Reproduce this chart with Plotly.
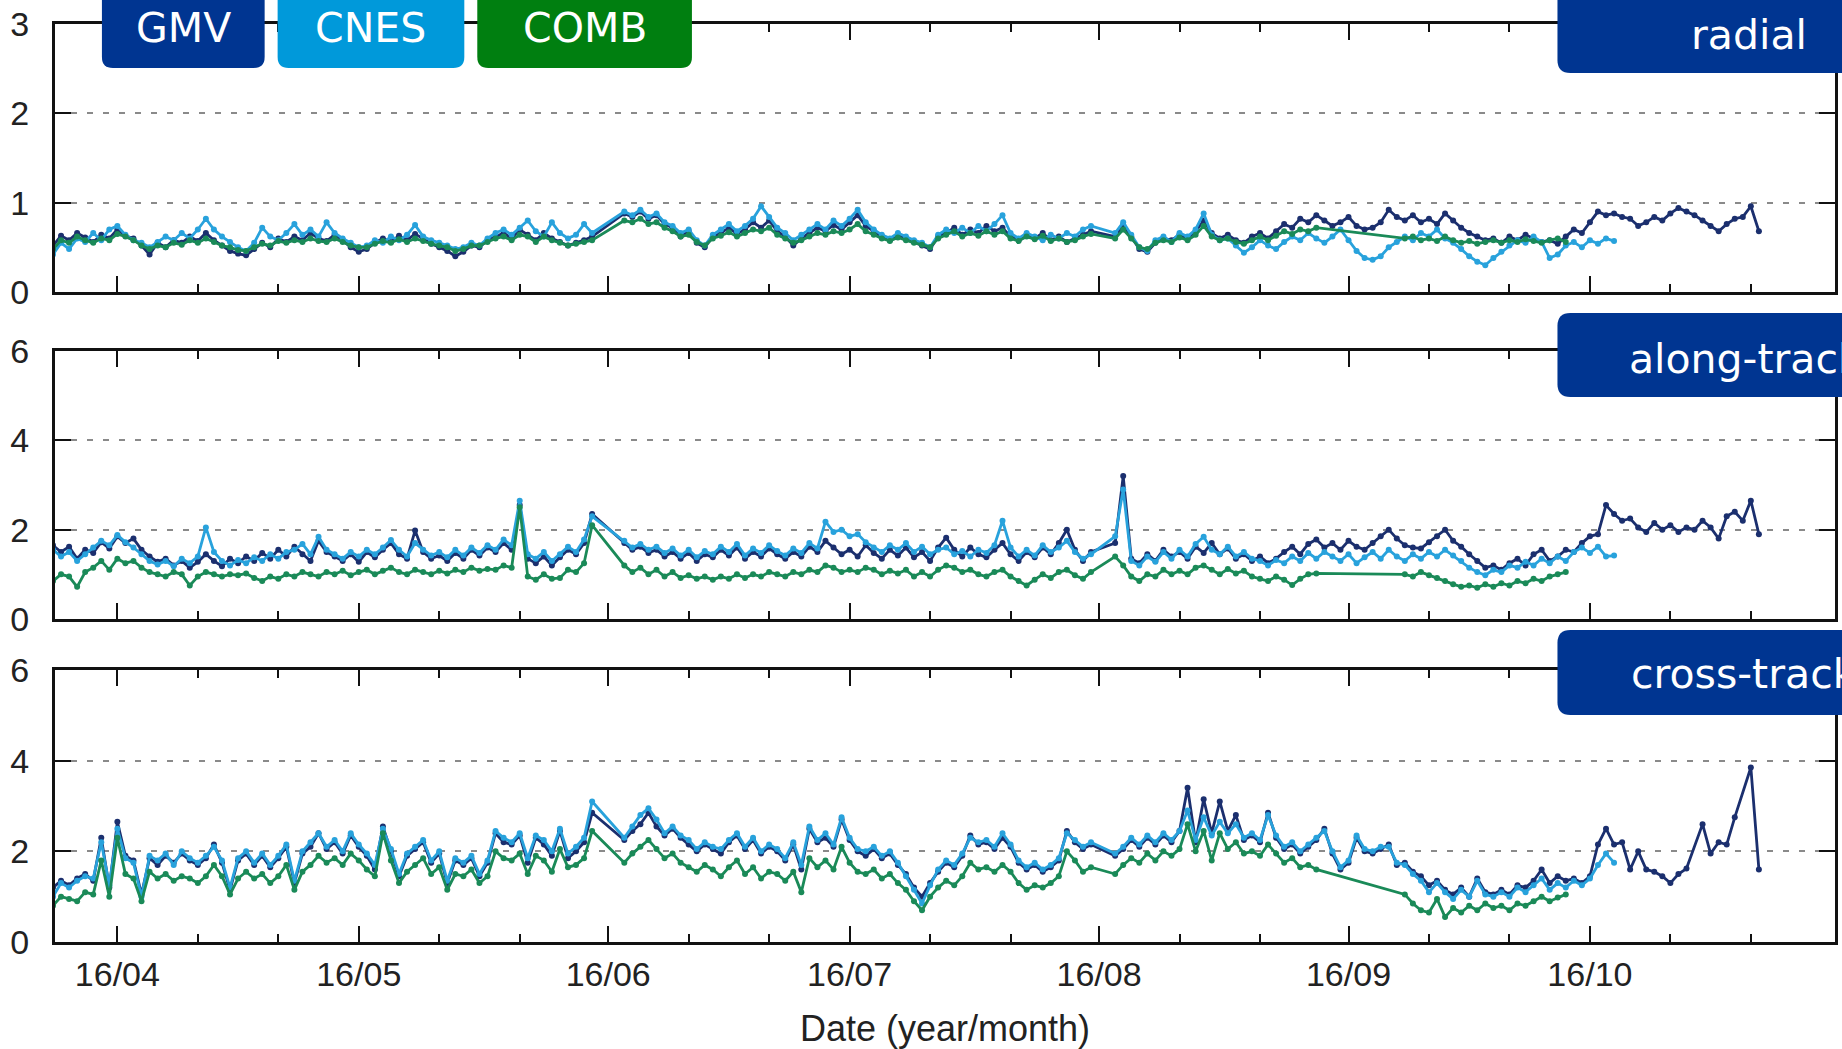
import pandas as pd
import plotly.graph_objects as go

N = None
# Daily dates (2016-03-24 ... 2016-10-22)
dates = pd.date_range("2016-03-24", periods=213, freq="D")

# ---------------- radial ----------------
radial_gmv = [
 0.52,0.63,0.58,0.66,0.61,0.56,0.64,0.60,0.70,0.63,
 0.60,0.52,0.42,0.55,0.50,0.58,0.55,0.62,0.57,0.66,
 0.58,0.52,0.46,0.43,0.41,0.48,0.55,0.50,0.60,0.56,
 0.62,0.58,0.66,0.60,0.57,0.64,0.58,0.50,0.45,0.48,
 0.55,0.60,0.56,0.63,0.58,0.65,0.59,0.54,0.50,0.46,
 0.40,0.45,0.52,0.50,0.58,0.62,0.66,0.60,0.70,0.64,
 0.58,0.66,0.60,0.56,0.52,0.55,0.58,0.62,N,N,
 N,0.88,0.84,0.90,0.82,0.86,0.76,0.72,0.62,0.68,
 0.55,0.50,0.62,0.66,0.72,0.65,0.70,0.78,0.72,0.80,
 0.68,0.62,0.52,0.60,0.66,0.72,0.68,0.75,0.70,0.78,
 0.86,0.74,0.68,0.62,0.58,0.64,0.60,0.56,0.52,0.48,
 0.62,0.66,0.72,0.64,0.70,0.66,0.74,0.68,0.72,0.62,
 0.58,0.64,0.60,0.66,0.58,0.62,0.56,0.60,0.64,0.68,
 N,N,0.62,0.75,0.62,0.48,0.45,0.55,0.60,0.58,
 0.64,0.60,0.68,0.80,0.66,0.60,0.64,0.58,0.55,0.62,
 0.66,0.60,0.68,0.76,0.72,0.82,0.78,0.86,0.80,0.74,
 0.78,0.84,0.74,0.70,0.72,0.78,0.92,0.84,0.80,0.86,
 0.78,0.82,0.76,0.88,0.80,0.72,0.66,0.62,0.58,0.60,
 0.55,0.62,0.58,0.64,0.60,0.56,0.58,0.54,0.62,0.70,
 0.66,0.78,0.90,0.86,0.88,0.84,0.82,0.74,0.78,0.84,
 0.80,0.88,0.94,0.90,0.86,0.80,0.74,0.68,0.76,0.82,
 0.84,0.96,0.68]
radial_cnes = [
 0.42,0.55,0.48,0.60,0.56,0.66,0.58,0.70,0.74,0.64,
 0.58,0.55,0.50,0.56,0.62,0.58,0.66,0.60,0.70,0.82,
 0.70,0.62,0.56,0.50,0.46,0.55,0.72,0.62,0.58,0.66,
 0.76,0.64,0.70,0.62,0.78,0.66,0.60,0.55,0.50,0.52,
 0.58,0.55,0.62,0.58,0.64,0.75,0.62,0.58,0.55,0.52,
 0.48,0.50,0.55,0.52,0.60,0.66,0.70,0.64,0.72,0.80,
 0.68,0.62,0.78,0.66,0.60,0.64,0.76,0.66,N,N,
 N,0.90,0.86,0.92,0.84,0.88,0.78,0.74,0.66,0.70,
 0.58,0.52,0.64,0.70,0.76,0.68,0.74,0.82,0.96,0.84,
 0.72,0.66,0.58,0.64,0.70,0.76,0.70,0.80,0.74,0.82,
 0.92,0.78,0.70,0.64,0.60,0.66,0.62,0.58,0.55,0.50,
 0.64,0.70,0.66,0.72,0.66,0.74,0.68,0.76,0.86,0.66,
 0.60,0.66,0.62,0.58,0.64,0.60,0.66,0.62,0.70,0.74,
 N,N,0.66,0.78,0.64,0.50,0.46,0.58,0.62,0.56,
 0.66,0.62,0.70,0.88,0.64,0.58,0.60,0.52,0.44,0.50,
 0.58,0.52,0.48,0.56,0.62,0.58,0.66,0.60,0.55,0.62,
 0.70,0.58,0.46,0.38,0.36,0.40,0.50,0.56,0.62,0.58,
 0.66,0.62,0.70,0.60,0.55,0.48,0.40,0.34,0.30,0.38,
 0.45,0.52,0.58,0.55,0.62,0.56,0.38,0.42,0.52,0.56,
 0.50,0.58,0.54,0.60,0.57] + [N]*18
radial_comb = [
 0.48,0.58,0.55,0.62,0.58,0.55,0.60,0.58,0.65,0.62,
 0.58,0.52,0.48,0.52,0.50,0.55,0.53,0.58,0.55,0.60,
 0.56,0.52,0.50,0.47,0.46,0.50,0.54,0.52,0.57,0.55,
 0.58,0.56,0.60,0.57,0.56,0.60,0.56,0.52,0.50,0.50,
 0.54,0.57,0.55,0.59,0.56,0.60,0.57,0.54,0.52,0.50,
 0.46,0.48,0.52,0.52,0.56,0.60,0.62,0.58,0.64,0.62,
 0.56,0.62,0.58,0.55,0.52,0.54,0.56,0.58,N,N,
 N,0.80,0.78,0.82,0.76,0.78,0.72,0.68,0.62,0.64,
 0.56,0.52,0.60,0.63,0.67,0.62,0.66,0.70,0.68,0.72,
 0.64,0.60,0.55,0.58,0.62,0.66,0.64,0.68,0.66,0.70,
 0.76,0.68,0.64,0.60,0.57,0.61,0.58,0.55,0.53,0.50,
 0.60,0.64,0.68,0.62,0.66,0.63,0.68,0.64,0.68,0.60,
 0.57,0.62,0.59,0.63,0.57,0.60,0.56,0.58,0.62,0.65,
 N,N,0.60,0.70,0.60,0.50,0.48,0.55,0.58,0.56,
 0.61,0.58,0.64,0.74,0.62,0.58,0.60,0.56,0.54,0.58,
 0.62,0.58,0.63,0.68,0.65,0.70,0.68,0.72,N,N,
 N,N,N,N,N,N,N,N,0.60,0.62,
 0.58,0.60,0.57,0.62,0.58,0.55,0.57,0.54,0.56,0.58,
 0.55,0.58,0.56,0.59,0.57,0.55,0.58,0.60,0.56,N] + [N]*23

# ---------------- along-track ----------------
along_gmv = [
 1.65,1.50,1.62,1.35,1.55,1.48,1.72,1.58,1.85,1.70,
 1.80,1.55,1.40,1.28,1.35,1.20,1.30,1.15,1.28,1.45,
 1.30,1.18,1.35,1.25,1.40,1.30,1.48,1.35,1.55,1.40,
 1.62,1.45,1.30,1.75,1.50,1.40,1.30,1.45,1.28,1.50,
 1.38,1.55,1.70,1.45,1.35,1.98,1.50,1.35,1.42,1.30,
 1.48,1.35,1.55,1.42,1.60,1.50,1.70,1.55,2.55,1.35,
 1.25,1.40,1.20,1.38,1.55,1.45,1.70,2.35,N,N,
 N,1.70,1.55,1.62,1.48,1.55,1.40,1.50,1.35,1.48,
 1.30,1.45,1.38,1.55,1.42,1.60,1.35,1.50,1.40,1.58,
 1.45,1.35,1.50,1.40,1.62,1.50,1.75,1.60,1.45,1.55,
 1.40,1.65,1.48,1.35,1.55,1.42,1.60,1.38,1.50,1.30,
 1.60,1.82,1.55,1.40,1.60,1.45,1.38,1.55,1.70,1.45,
 1.30,1.50,1.38,1.60,1.45,1.70,2.00,1.55,1.30,1.50,
 N,N,1.70,3.20,1.35,1.25,1.45,1.30,1.55,1.40,
 1.50,1.35,1.62,1.48,1.70,1.45,1.58,1.35,1.45,1.30,
 1.40,1.25,1.35,1.50,1.62,1.45,1.68,1.78,1.60,1.70,
 1.55,1.75,1.62,1.55,1.70,1.85,2.00,1.80,1.65,1.60,
 1.58,1.72,1.85,2.00,1.75,1.62,1.45,1.30,1.15,1.20,
 1.10,1.25,1.35,1.20,1.45,1.55,1.30,1.40,1.55,1.50,
 1.70,1.85,1.90,2.55,2.35,2.20,2.25,2.05,1.95,2.15,
 2.00,2.10,1.95,2.05,2.00,2.20,2.05,1.80,2.30,2.40,
 2.20,2.65,1.90]
along_cnes = [
 1.55,1.40,1.50,1.30,1.45,1.60,1.75,1.65,1.88,1.72,
 1.60,1.45,1.30,1.22,1.30,1.18,1.35,1.25,1.40,2.05,
 1.50,1.30,1.20,1.32,1.25,1.38,1.30,1.45,1.35,1.50,
 1.55,1.68,1.45,1.84,1.55,1.45,1.35,1.50,1.40,1.55,
 1.45,1.60,1.77,1.55,1.40,1.70,1.55,1.42,1.50,1.38,
 1.55,1.42,1.60,1.48,1.65,1.55,1.78,1.65,2.65,1.45,
 1.35,1.50,1.30,1.45,1.62,1.50,1.78,2.30,N,N,
 N,1.75,1.60,1.68,1.55,1.62,1.48,1.58,1.42,1.55,
 1.38,1.52,1.45,1.62,1.50,1.68,1.42,1.58,1.48,1.65,
 1.52,1.42,1.58,1.48,1.70,1.58,2.18,1.95,2.00,1.85,
 1.90,1.72,1.60,1.50,1.65,1.55,1.70,1.50,1.62,1.45,
 1.55,1.60,1.45,1.52,1.40,1.55,1.48,1.65,2.20,1.60,
 1.40,1.55,1.42,1.65,1.50,1.60,1.75,1.50,1.35,1.45,
 N,N,1.85,2.90,1.30,1.20,1.40,1.28,1.50,1.35,
 1.55,1.40,1.68,1.84,1.55,1.45,1.62,1.40,1.50,1.35,
 1.30,1.20,1.32,1.25,1.40,1.30,1.48,1.35,1.50,1.40,
 1.30,1.45,1.25,1.38,1.50,1.35,1.55,1.40,1.30,1.45,
 1.35,1.50,1.40,1.55,1.42,1.30,1.15,1.05,0.98,1.10,
 1.05,1.20,1.15,1.28,1.20,1.35,1.25,1.40,1.30,1.50,
 1.60,1.48,1.62,1.40,1.42] + [N]*18
along_comb = [
 0.85,1.00,0.95,0.72,1.05,1.15,1.30,1.10,1.35,1.25,
 1.30,1.15,1.05,1.00,0.95,1.05,1.00,0.75,0.95,1.05,
 1.00,0.95,1.00,0.98,1.02,0.92,0.85,0.95,0.90,1.00,
 0.95,1.05,1.00,0.95,1.05,1.00,1.08,0.98,1.05,1.10,
 1.00,1.08,1.15,1.05,1.00,1.10,1.05,1.00,1.08,1.02,
 1.10,1.05,1.15,1.08,1.12,1.10,1.20,1.15,2.50,0.95,
 0.88,1.00,0.90,0.92,1.10,1.05,1.25,2.10,N,N,
 N,1.20,1.05,1.15,1.00,1.10,0.95,1.05,0.92,0.98,
 0.90,0.95,0.88,0.95,0.90,1.00,0.92,1.00,0.95,1.05,
 1.00,0.95,1.05,1.00,1.10,1.05,1.20,1.15,1.05,1.10,
 1.05,1.15,1.10,1.00,1.08,1.02,1.10,0.95,1.05,0.95,
 1.10,1.20,1.15,1.05,1.10,1.00,0.95,1.05,1.10,0.95,
 0.85,0.75,0.88,1.00,0.92,1.05,1.10,0.98,0.90,1.05,
 N,N,1.40,1.20,0.95,0.85,1.00,0.95,1.10,1.00,
 1.08,1.00,1.15,1.20,1.10,1.00,1.12,1.02,1.08,0.95,
 0.90,0.85,0.95,0.88,0.76,0.90,1.00,1.02,N,N,
 N,N,N,N,N,N,N,N,1.00,0.95,
 1.05,0.98,0.92,0.85,0.78,0.72,0.75,0.70,0.78,0.72,
 0.80,0.75,0.85,0.80,0.90,0.85,0.95,1.00,1.05,N] + [N]*23

# ---------------- cross-track ----------------
cross_gmv = [
 1.20,1.35,1.25,1.40,1.50,1.35,2.30,1.20,2.65,1.90,
 1.80,1.05,1.85,1.70,1.90,1.75,1.95,1.80,1.70,1.85,
 2.15,1.75,1.15,1.80,1.95,1.70,1.90,1.65,1.85,2.10,
 1.30,1.95,2.10,2.40,2.05,2.20,1.95,2.35,2.10,1.90,
 1.60,2.55,2.00,1.45,1.90,2.05,2.20,1.75,1.95,1.30,
 1.80,1.70,1.85,1.45,1.75,2.40,2.20,2.15,2.35,1.75,
 2.30,2.15,1.90,2.45,1.85,2.00,2.20,2.85,N,N,
 N,2.25,2.45,2.60,2.85,2.55,2.35,2.50,2.30,2.15,
 2.00,2.15,2.05,1.95,2.20,2.35,2.05,2.25,1.95,2.10,
 2.00,1.80,2.15,1.60,2.50,2.20,2.30,2.10,2.70,2.25,
 2.00,1.90,2.05,1.85,1.95,1.70,1.50,1.20,1.00,1.30,
 1.55,1.75,1.65,1.90,2.35,2.15,2.20,2.05,2.30,2.10,
 1.75,1.60,1.70,1.55,1.65,1.80,2.45,2.20,2.05,2.15,
 N,N,1.90,2.05,2.25,2.10,2.30,2.15,2.35,2.20,
 2.45,3.40,2.20,3.15,2.40,3.10,2.45,2.80,2.25,2.35,
 2.20,2.85,2.30,2.05,2.15,1.95,2.10,2.25,2.50,1.95,
 1.60,1.75,2.30,2.00,1.95,2.05,2.15,1.70,1.75,1.55,
 1.45,1.25,1.35,1.15,1.05,1.20,1.00,1.40,1.10,1.05,
 1.15,1.05,1.25,1.20,1.35,1.60,1.30,1.45,1.35,1.40,
 1.30,1.45,2.15,2.50,2.15,2.20,1.60,2.00,1.60,1.55,
 1.45,1.30,1.50,1.62,N,2.60,1.95,2.20,2.15,2.75,
 N,3.85,1.60]
cross_cnes = [
 1.00,1.30,1.20,1.35,1.45,1.40,2.20,1.25,2.50,1.85,
 1.75,1.00,1.90,1.80,1.95,1.70,2.00,1.85,1.75,1.90,
 2.10,1.80,1.20,1.85,2.00,1.75,1.95,1.70,1.90,2.15,
 1.35,2.00,2.20,2.40,2.10,2.25,2.00,2.40,2.15,1.95,
 1.70,2.50,2.05,1.50,1.95,2.10,2.25,1.80,2.00,1.35,
 1.85,1.75,1.90,1.50,1.80,2.45,2.30,2.20,2.40,1.85,
 2.35,2.25,2.00,2.50,1.95,2.10,2.30,3.10,N,N,
 N,2.30,2.55,2.80,2.95,2.70,2.40,2.55,2.35,2.25,
 2.05,2.20,2.10,2.05,2.25,2.40,2.10,2.30,2.00,2.15,
 2.05,1.85,2.20,1.70,2.55,2.25,2.40,2.15,2.75,2.30,
 2.05,2.00,2.10,1.90,2.00,1.75,1.45,1.15,0.85,1.25,
 1.60,1.80,1.70,1.95,2.30,2.20,2.25,2.10,2.40,2.15,
 1.80,1.65,1.75,1.60,1.70,1.85,2.40,2.25,2.10,2.20,
 N,N,1.95,2.10,2.30,2.15,2.35,2.20,2.40,2.25,
 2.45,2.90,2.25,2.75,2.35,2.65,2.40,2.60,2.30,2.40,
 2.25,2.80,2.35,2.10,2.20,2.00,2.15,2.30,2.45,2.00,
 1.65,1.80,2.35,2.05,2.00,2.10,2.10,1.75,1.70,1.50,
 1.35,1.10,1.30,1.10,0.95,1.15,1.00,1.35,1.05,1.00,
 1.10,1.00,1.20,1.10,1.25,1.40,1.15,1.30,1.20,1.35,
 1.25,1.40,1.70,1.95,1.75] + [N]*18
cross_comb = [
 0.80,1.00,0.95,0.90,1.10,1.05,1.80,1.00,2.30,1.50,
 1.40,0.90,1.55,1.40,1.50,1.35,1.45,1.40,1.30,1.45,
 1.70,1.45,1.05,1.40,1.55,1.40,1.50,1.30,1.45,1.70,
 1.15,1.55,1.70,1.90,1.75,1.85,1.70,1.95,1.80,1.60,
 1.45,2.40,1.80,1.30,1.55,1.70,1.85,1.50,1.65,1.15,
 1.50,1.45,1.60,1.30,1.45,2.00,1.85,1.80,1.95,1.50,
 1.90,1.80,1.55,2.05,1.65,1.70,1.85,2.45,N,N,
 N,1.75,1.95,2.10,2.25,2.05,1.85,1.95,1.75,1.65,
 1.55,1.70,1.60,1.45,1.65,1.80,1.50,1.65,1.40,1.55,
 1.50,1.35,1.55,1.10,1.85,1.65,1.80,1.60,2.10,1.75,
 1.55,1.50,1.60,1.40,1.50,1.30,1.15,0.90,0.70,1.00,
 1.20,1.35,1.25,1.45,1.75,1.60,1.65,1.55,1.70,1.55,
 1.30,1.15,1.25,1.20,1.30,1.45,2.00,1.80,1.55,1.65,
 N,N,1.50,1.70,1.85,1.75,1.95,1.80,2.00,1.90,
 2.05,2.60,2.00,2.45,1.80,2.40,2.05,2.20,1.95,2.00,
 1.90,2.15,1.95,1.75,1.85,1.65,1.70,1.60,N,N,
 N,N,N,N,N,N,N,N,1.05,0.85,
 0.70,0.65,0.95,0.55,0.75,0.65,0.80,0.70,0.85,0.75,
 0.80,0.70,0.85,0.80,0.90,1.00,0.90,0.98,1.05,N] + [N]*23

series_names = ["GMV", "CNES", "COMB"]
line_colors = ["#1b2f6e", "#28a2dc", "#1a8a58"]
box_colors = ["#003591", "#0099da", "#007f10"]
panels = [("radial", [radial_gmv, radial_cnes, radial_comb]),
          ("along-track", [along_gmv, along_cnes, along_comb]),
          ("cross-track", [cross_gmv, cross_cnes, cross_comb])]
y_ranges = [[0, 3], [0, 6], [0, 6]]
y_ticks = [[0, 1, 2, 3], [0, 2, 4, 6], [0, 2, 4, 6]]
month_ticks = ["2016-04-01", "2016-05-01", "2016-06-01", "2016-07-01",
               "2016-08-01", "2016-09-01", "2016-10-01"]
month_labels = ["16/04", "16/05", "16/06", "16/07", "16/08", "16/09", "16/10"]
minor_ticks = ["2016-03-11", "2016-03-21", "2016-04-11", "2016-04-21",
               "2016-05-11", "2016-05-21", "2016-06-11", "2016-06-21",
               "2016-07-11", "2016-07-21", "2016-08-11", "2016-08-21",
               "2016-09-11", "2016-09-21", "2016-10-11", "2016-10-21"]
x_range = ["2016-03-24 06:00", "2016-10-31 11:00"]

W, H = 1842, 1049
ML, MR, MT, MB = 55, 4, 24, 107
PW, PH = W - ML - MR, H - MT - MB

def px(x):
    return (x - ML) / PW

def py(y):
    return (H - MB - y) / PH

domains = [[py(292), 1.0], [py(619), py(351)], [0.0, py(670)]]

fig = go.Figure()
for i, (pname, vals) in enumerate(panels):
    for j in range(3):
        fig.add_trace(go.Scatter(
            x=dates, y=vals[j], mode="lines+markers", name=series_names[j],
            connectgaps=True, showlegend=False,
            line=dict(color=line_colors[j], width=2.8),
            marker=dict(color=line_colors[j], size=6),
            xaxis="x" if i == 0 else f"x{i+1}",
            yaxis="y" if i == 0 else f"y{i+1}"))

axis_font = dict(family="Liberation Sans, Arial, sans-serif", size=34, color="#222")
layout = dict(width=W, height=H, margin=dict(l=ML, r=MR, t=MT, b=MB),
              plot_bgcolor="white", paper_bgcolor="white", showlegend=False)
for i in range(3):
    sfx = "" if i == 0 else str(i + 1)
    layout["xaxis" + sfx] = dict(
        type="date", range=x_range, domain=[0, 1],
        anchor="y" + sfx, matches=None if i == 0 else "x",
        showline=True, linewidth=3, linecolor="#111", mirror="allticks",
        ticks="inside", ticklen=16, tickwidth=2, tickcolor="#111",
        tickmode="array", tickvals=month_ticks, ticktext=month_labels,
        showticklabels=(i == 2), tickfont=axis_font, showgrid=False, zeroline=False,
        minor=dict(tickmode="array", tickvals=minor_ticks, ticks="inside",
                   ticklen=8, tickwidth=2, tickcolor="#111", showgrid=False),
        title=dict(text="Date (year/month)", font=dict(family="Liberation Sans, Arial, sans-serif", size=36, color="#222"), standoff=27) if i == 2 else None,
    )
    layout["yaxis" + sfx] = dict(
        range=y_ranges[i], domain=domains[i], anchor="x" + sfx,
        showline=True, linewidth=3, linecolor="#111", mirror="allticks",
        ticks="inside", ticklen=16, tickwidth=2, tickcolor="#111",
        tickmode="array", tickvals=y_ticks[i], tickfont=dict(family="Liberation Sans, Arial, sans-serif", size=34, color="#222"),
        showgrid=True, gridcolor="#8a8a8a", gridwidth=1.5, griddash="6px,10px",
        zeroline=False, ticklabelstandoff=16,
    )
fig.update_layout(**layout)

def rounded_rect(x0, y0, x1, y1, r):
    # pixel coordinates -> paper-space path with rounded corners
    pts = [f"M {px(x0 + r)} {py(y0)}", f"L {px(x1 - r)} {py(y0)}",
           f"Q {px(x1)} {py(y0)} {px(x1)} {py(y0 + r)}", f"L {px(x1)} {py(y1 - r)}",
           f"Q {px(x1)} {py(y1)} {px(x1 - r)} {py(y1)}", f"L {px(x0 + r)} {py(y1)}",
           f"Q {px(x0)} {py(y1)} {px(x0)} {py(y1 - r)}", f"L {px(x0)} {py(y0 + r)}",
           f"Q {px(x0)} {py(y0)} {px(x0 + r)} {py(y0)}", "Z"]
    return " ".join(pts)

label_font = dict(family="DejaVu Sans, Verdana, sans-serif", size=41, color="white")
legend_boxes = [(102, 265, 183.5), (278, 465, 371), (478, 693, 586)]
for (x0, x1, xc), name, col in zip(legend_boxes, series_names, box_colors):
    fig.add_shape(type="path", xref="paper", yref="paper",
                  path=rounded_rect(x0, -20, x1, 68, 11),
                  fillcolor=col, line=dict(width=0), layer="above")
    fig.add_annotation(x=px(xc), y=py(28), xref="paper", yref="paper",
                       text=name, showarrow=False, font=label_font,
                       xanchor="center", yanchor="middle")

panel_boxes = [(-20, 73, 35, 1692), (313, 397, 359, 1630), (630, 715, 674, 1632)]
for (y0, y1, yc, xt), (pname, _) in zip(panel_boxes, panels):
    fig.add_shape(type="path", xref="paper", yref="paper",
                  path=rounded_rect(1560, y0, 1900, y1, 13),
                  fillcolor="#003591", line=dict(width=0), layer="above")
    fig.add_annotation(x=px(xt), y=py(yc), xref="paper", yref="paper",
                       text=pname, showarrow=False, font=label_font,
                       xanchor="left", yanchor="middle")

fig.write_html("out.html", config={"displayModeBar": False})
